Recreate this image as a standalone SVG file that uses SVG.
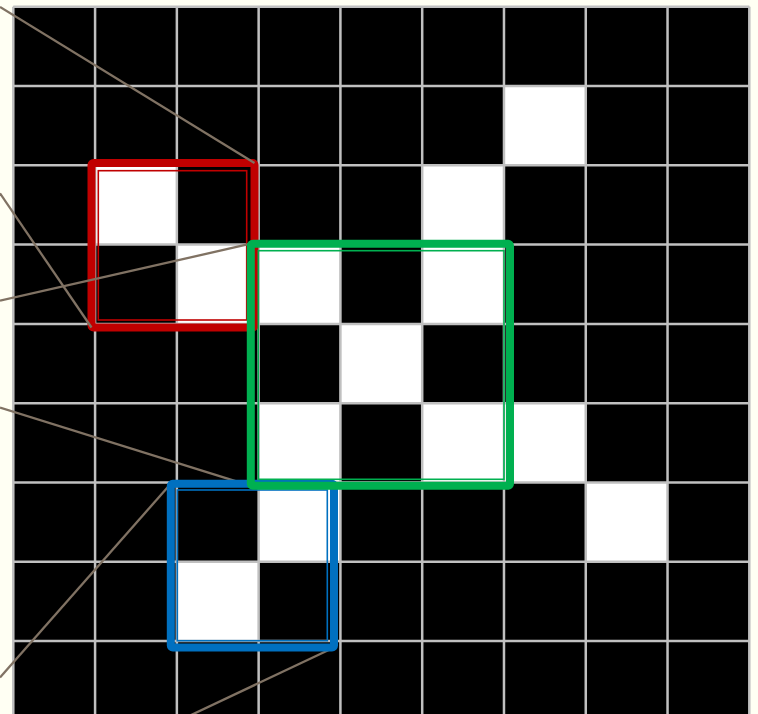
<svg xmlns="http://www.w3.org/2000/svg" width="758" height="714" viewBox="0 0 758 714">
<defs>
<style>
.w{fill:#ffffff}
.gl{stroke:#c0c0c0;stroke-width:2.5;fill:none}
.con{stroke:#807263;stroke-width:2.3;fill:none}
.thick{fill:none;stroke-width:8;stroke-linejoin:round}
.thin{fill:none;stroke-width:1.6}
</style>
</defs>
<rect x="0" y="0" width="758" height="714" fill="#fffff3"/>
<g id="grid">
<rect x="13.3" y="6.7" width="736" height="713.7" fill="#000"/>
<rect class="w" x="503.98" y="86" width="81.78" height="79.3"/>
<rect class="w" x="95.08" y="165.3" width="81.78" height="79.3"/>
<rect class="w" x="422.2" y="165.3" width="81.78" height="79.3"/>
<rect class="w" x="176.86" y="244.6" width="81.78" height="79.3"/>
<rect class="w" x="258.64" y="244.6" width="81.78" height="79.3"/>
<rect class="w" x="422.2" y="244.6" width="81.78" height="79.3"/>
<rect class="w" x="340.42" y="323.9" width="81.78" height="79.3"/>
<rect class="w" x="258.64" y="403.2" width="81.78" height="79.3"/>
<rect class="w" x="422.2" y="403.2" width="81.78" height="79.3"/>
<rect class="w" x="503.98" y="403.2" width="81.78" height="79.3"/>
<rect class="w" x="258.64" y="482.5" width="81.78" height="79.3"/>
<rect class="w" x="585.76" y="482.5" width="81.78" height="79.3"/>
<rect class="w" x="176.86" y="561.8" width="81.78" height="79.3"/>
<path class="gl" d="M13.3 6.7V720.4M95.08 6.7V720.4M176.86 6.7V720.4M258.64 6.7V720.4M340.42 6.7V720.4M422.2 6.7V720.4M503.98 6.7V720.4M585.76 6.7V720.4M667.54 6.7V720.4M749.32 6.7V720.4M13.3 6.7H749.32M13.3 86H749.32M13.3 165.3H749.32M13.3 244.6H749.32M13.3 323.9H749.32M13.3 403.2H749.32M13.3 482.5H749.32M13.3 561.8H749.32M13.3 641.1H749.32"/>
</g>
<g id="red-box">
<rect class="thick" stroke="#c00000" x="91.5" y="163" width="163" height="164.5" rx="2"/>
<rect class="thin" stroke="#c00000" x="98.3" y="170.7" width="148.4" height="149.3"/>
</g>
<g id="connectors">
<line class="con" x1="0" y1="7" x2="254.5" y2="163"/>
<line class="con" x1="0" y1="193.3" x2="91.5" y2="327.5"/>
<line class="con" x1="0" y1="300.7" x2="250.8" y2="243.7"/>
<line class="con" x1="0" y1="407.5" x2="250.8" y2="485.8"/>
<line class="con" x1="0" y1="677.5" x2="170.8" y2="483.7"/>
<line class="con" x1="152" y1="733.5" x2="334" y2="647.5"/>
</g>
<g id="blue-box">
<rect class="thick" stroke="#0070c0" x="170.8" y="483.7" width="163.2" height="163.8" rx="2"/>
<rect class="thin" stroke="#0070c0" x="177.3" y="490" width="150" height="150.7"/>
</g>
<g id="green-box">
<rect class="thick" stroke="#00b050" x="250.8" y="243.7" width="259.2" height="242.1" rx="2"/>
<rect class="thin" stroke="#00b050" x="258.3" y="250.7" width="245.7" height="228.6"/>
</g>
</svg>
